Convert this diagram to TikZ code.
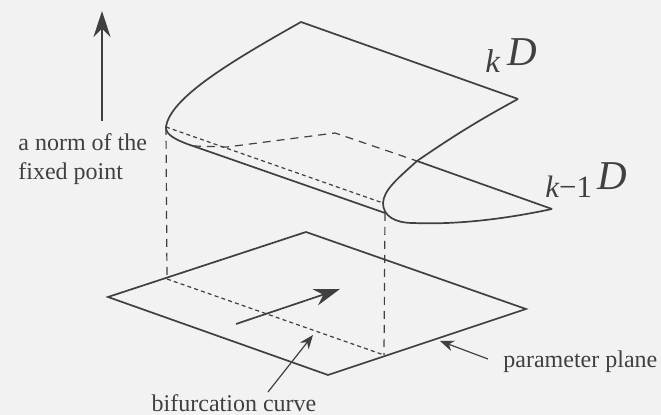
\documentclass[tikz,border=0pt]{standalone}
\usepackage{fontspec}
\setmainfont{Liberation Serif}
\usetikzlibrary{arrows.meta}
\definecolor{ink}{gray}{0.25}
\definecolor{paper}{gray}{0.95}
\tikzset{
 solidline/.style={draw=ink,line width=0.85pt,line join=miter},
 dashline/.style={draw=ink,line width=0.6pt,dash pattern=on 4pt off 3pt},
 finedash/.style={draw=ink,line width=0.6pt,dash pattern=on 2pt off 1.6pt},
 thinarrow/.style={draw=ink,line width=0.6pt,-{Stealth[length=7pt,width=5.5pt]}},
 bigarrow/.style={draw=ink,line width=0.85pt,-{Stealth[length=13pt,width=8.5pt]}},
 label/.style={inner sep=0pt,text=ink,font=\fontsize{12}{14.5}\selectfont},
 sheet/.style={inner sep=0pt,text=ink,font=\fontsize{20.5}{22}\selectfont\itshape},
 index/.style={inner sep=0pt,text=ink,font=\fontsize{15.5}{16}\selectfont}
}
\begin{document}
\begin{tikzpicture}[x=0.5pt,y=-0.5pt]
\useasboundingbox[fill=paper] (0,0) rectangle (661,415);
% upper sheet
\coordinate (T) at (301,22);
\coordinate (R) at (518,99);
\coordinate (L) at (166,127);
\coordinate (J) at (193,146);
\coordinate (M) at (417,161);
\coordinate (F) at (383,203);
\coordinate (B) at (413,223);
\coordinate (E) at (552,209);
\coordinate (G) at (385,213);
\draw[solidline] (R) -- (T) .. controls (230,62) and (170,98) .. (L)
  .. controls (165,135) and (178,141) .. (J) -- (G);
\draw[solidline] (R) .. controls (470,125) and (445,142) .. (M)
  .. controls (396,180) and (384,190) .. (F)
  .. controls (383,216) and (395,223) .. (B)
  .. controls (460,225) and (510,218) .. (E);
\draw[solidline] (M) -- (E);
% hidden edges
\draw[finedash] (L) -- (F);
\coordinate (H1) at (227,147);
\coordinate (H2) at (335,133);
\draw[dashline] (J) -- (H1) -- (H2) -- (M);
% plane
\coordinate (PL) at (108,297);
\coordinate (PT) at (306,232);
\coordinate (PR) at (526,309);
\coordinate (PB) at (328,375);
\draw[solidline] (PL) -- (PT) -- (PR) -- (PB) -- cycle;
\coordinate (C1) at (167,279);
\coordinate (C2) at (384,355);
\draw[finedash] (C1) -- (C2);
\draw[dashline] (L) -- (C1);
\draw[dashline] (G) -- (C2);
% arrows
\coordinate (A1) at (236,324);
\coordinate (A2) at (340,289);
\draw[bigarrow] (A1) -- (A2);
\coordinate (N1) at (102,121);
\coordinate (N2) at (102,11);
\draw[bigarrow] (N1) -- (N2);
% labels
\node[label,align=left,anchor=north west] (norm) at (18,133) {a norm of the\\fixed point};
\node[label,anchor=north] (bif) at (234,394) {bifurcation curve};
\node[label,anchor=west] (par) at (503,362) {parameter plane};
\coordinate (BT) at (313,335);
\coordinate (PA) at (440,341);
\draw[thinarrow] (bif.north) ++(34,-2) -- (BT);
\draw[thinarrow] (par.west) ++(-15,-3) -- (PA);
\node[sheet,anchor=base west] (D1) at (507,66) {D};
\node[index,anchor=base west,font=\fontsize{16.5}{17}\selectfont] (k1) at (485,73) {\itshape k};
\node[sheet,anchor=base west] (D2) at (597,190) {D};
\node[index,anchor=base west] (k2) at (545,198) {\itshape k\upshape −1};
\end{tikzpicture}
\end{document}
